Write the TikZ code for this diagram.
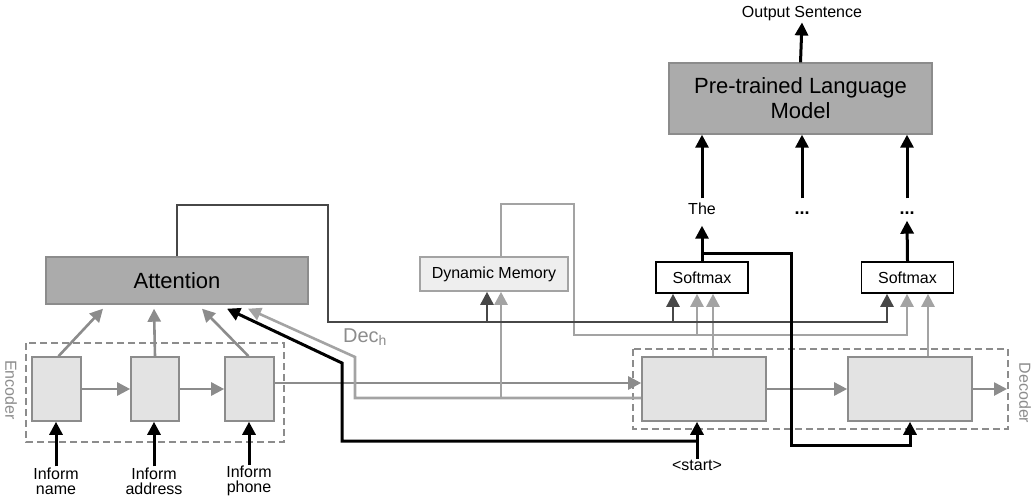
\documentclass[tikz,border=0pt]{standalone}
\usepackage{fontspec}
\setmainfont{Liberation Sans}
\usepackage{tikz}
\usetikzlibrary{arrows.meta,positioning}
\definecolor{darkln}{HTML}{474747}
\definecolor{lightln}{HTML}{A3A3A3}
\definecolor{midln}{HTML}{8C8C8C}
\definecolor{blockfill}{HTML}{ABABAB}
\definecolor{cellfill}{HTML}{E3E3E3}

\begin{document}
\begin{tikzpicture}[x=1pt, y=-1pt,
  blockbox/.style={draw=midln, fill=blockfill, line width=1.4pt,
                   font=\fontsize{22}{25}\selectfont, inner sep=0pt},
  cell/.style={draw=midln, fill=cellfill, line width=1.6pt, inner sep=0pt},
  smbox/.style={draw=black, fill=white, line width=1.6pt, minimum width=92pt,
                minimum height=31pt, font=\fontsize{16}{18}\selectfont, inner sep=0pt},
  txt/.style={font=\fontsize{16}{18}\selectfont, inner sep=1pt, align=center},
  word/.style={txt, text height=12pt, text depth=3pt},
  side/.style={font=\fontsize{16}{18}\selectfont, text=midln, rotate=-90},
  grp/.style={draw=midln, dash pattern=on 7pt off 4pt, line width=1.4pt},
  arr/.style={-{Triangle[length=13pt, width=13pt]}, line width=2.6pt},
  blk/.style={arr, black, line width=3pt},
]
  \useasboundingbox (0,0) rectangle (1032,499);

  % ── Top blocks ──────────────────
  \node[blockbox, minimum width=263pt, minimum height=71pt, align=center]
        (plm) at (800.5,98.5) {Pre-trained Language\\Model};
  \node[txt] (out) at (802,14) {Output Sentence};
  \node[blockbox, minimum width=262pt, minimum height=47pt]
        (attn) at (177,280.5) {Attention};
  \node[draw=lightln, fill=cellfill!60, line width=1.6pt, minimum width=148pt,
        minimum height=34pt, inner sep=0pt, font=\fontsize{16}{18}\selectfont]
        (dm) at (494,274) {Dynamic Memory};

  % ── Softmax + words ─────────────
  \node[smbox] (sm1) at (702,277.5) {Softmax};
  \node[smbox] (sm2) at (907.5,277.5) {Softmax};
  \node[word] (the) at (702,210) {The};
  \node[word, font=\fontsize{18}{18}\selectfont\bfseries] (dots1) at (802,210) {...};
  \node[word, font=\fontsize{18}{18}\selectfont\bfseries] (dots2) at (907,210) {...};

  % ── Encoder ─────────────────────
  \draw[grp] (26,343) rectangle (284,442);
  \node[cell, minimum width=49pt, minimum height=64pt] (enc1) at (56.5,389) {};
  \node[cell, minimum width=48pt, minimum height=64pt] (enc2) at (155,389) {};
  \node[cell, minimum width=49pt, minimum height=64pt] (enc3) at (249.5,389) {};
  \node[side] (enclbl) at (11,390) {Encoder};
  \node[txt] (in1) at (56,481) {Inform\\[-3pt]name};
  \node[txt] (in2) at (154,481) {Inform\\[-3pt]address};
  \node[txt] (in3) at (249,481) {Inform\\[-3pt]phone};

  % ── Decoder ─────────────────────
  \draw[grp] (633,349) rectangle (1008,429);
  \node[cell, minimum width=124pt, minimum height=64pt] (dec1) at (704,389) {};
  \node[cell, minimum width=124pt, minimum height=64pt] (dec2) at (910,389) {};
  \node[side] (declbl) at (1025,393) {Decoder};
  \node[txt] (start) at (697,465) {<start>};
  \coordinate (decout) at (1007,389);

  % ── Encoder arrows ──────────────
  \draw[arr, midln] (enc1.east) -- (enc2.west);
  \draw[arr, midln] (enc2.east) -- (enc3.west);
  \draw[arr, midln] ([xshift=2pt]enc1.north) -- ([xshift=-74pt,yshift=-4pt]attn.south);
  \draw[arr, midln] (enc2.north) -- ([xshift=-23pt,yshift=-4pt]attn.south);
  \draw[arr, midln] ([xshift=-1pt]enc3.north) -- ([xshift=25pt,yshift=-4pt]attn.south);
  \foreach \i in {1,2,3}
    \draw[blk] (in\i.north) -- (in\i.north |- enc\i.south);
  \draw[arr, midln] ([yshift=6pt]enc3.east) -- ([yshift=6pt]dec1.west);

  % ── Decoder arrows ──────────────
  \draw[arr, midln] (dec1.east) -- (dec2.west);
  \draw[arr, midln] (dec2.east) -- (decout);
  \draw[arr, lightln] ([xshift=9pt]dec1.north) -- ([xshift=11pt]sm1.south);
  \draw[arr, lightln] ([xshift=18pt]dec2.north) -- ([xshift=20.5pt]sm2.south);

  % ── Dec_h ───────────────────────
  \draw[arr, lightln] ([yshift=-9pt]dec1.west) -- (355,398) -- (355,357)
        -- ([xshift=71pt,yshift=-4pt]attn.south);
  \draw[arr, lightln] (501,398) -- (dm.south -| 501,0);
  \node[font=\fontsize{20}{22}\selectfont, text=midln] (dech) at (365,337) {Dec$_{\mathrm{h}}$};

  % ── Memory readout ──────────────
  \draw[arr, lightln] (dm.north -| 501,0) -- (501,204) -- (574,204) -- (574,335)
        -- (907,335) -- (sm2.south -| 907,0);
  \draw[arr, lightln] (697,335) -- (sm1.south -| 697,0);

  % ── Attention context ───────────
  \draw[arr, darkln] (attn.north) -- (177,205) -- (328,205) -- (328,322)
        -- (887,322) -- (sm2.south -| 887,0);
  \draw[arr, darkln] (487,322) -- (dm.south -| 487,0);
  \draw[arr, darkln] (673,322) -- (sm1.south -| 673,0);

  % ── Black feeds ─────────────────
  \draw[blk] (start.north) -- (start.north |- dec1.south);
  \draw[blk] (697,441) -- (342,441) -- (342,363)
        -- ([xshift=50pt,yshift=-4pt]attn.south);
  \draw[blk] (sm1.north) -- ([yshift=-7pt]the.south);
  \draw[blk] (sm2.north) -- ([yshift=-2pt]dots2.south);
  \draw[blk] (702,253) -- (791,253) -- (791,445) -- (910,445) -- (dec2.south);
  \draw[blk] ([yshift=3pt]the.north) -- (the.north |- plm.south);
  \draw[blk] ([yshift=3pt]dots1.north) -- (dots1.north |- plm.south);
  \draw[blk] ([yshift=3pt]dots2.north) -- (dots2.north |- plm.south);
  \draw[blk] (plm.north) -- (out.south);
\end{tikzpicture}
\end{document}
